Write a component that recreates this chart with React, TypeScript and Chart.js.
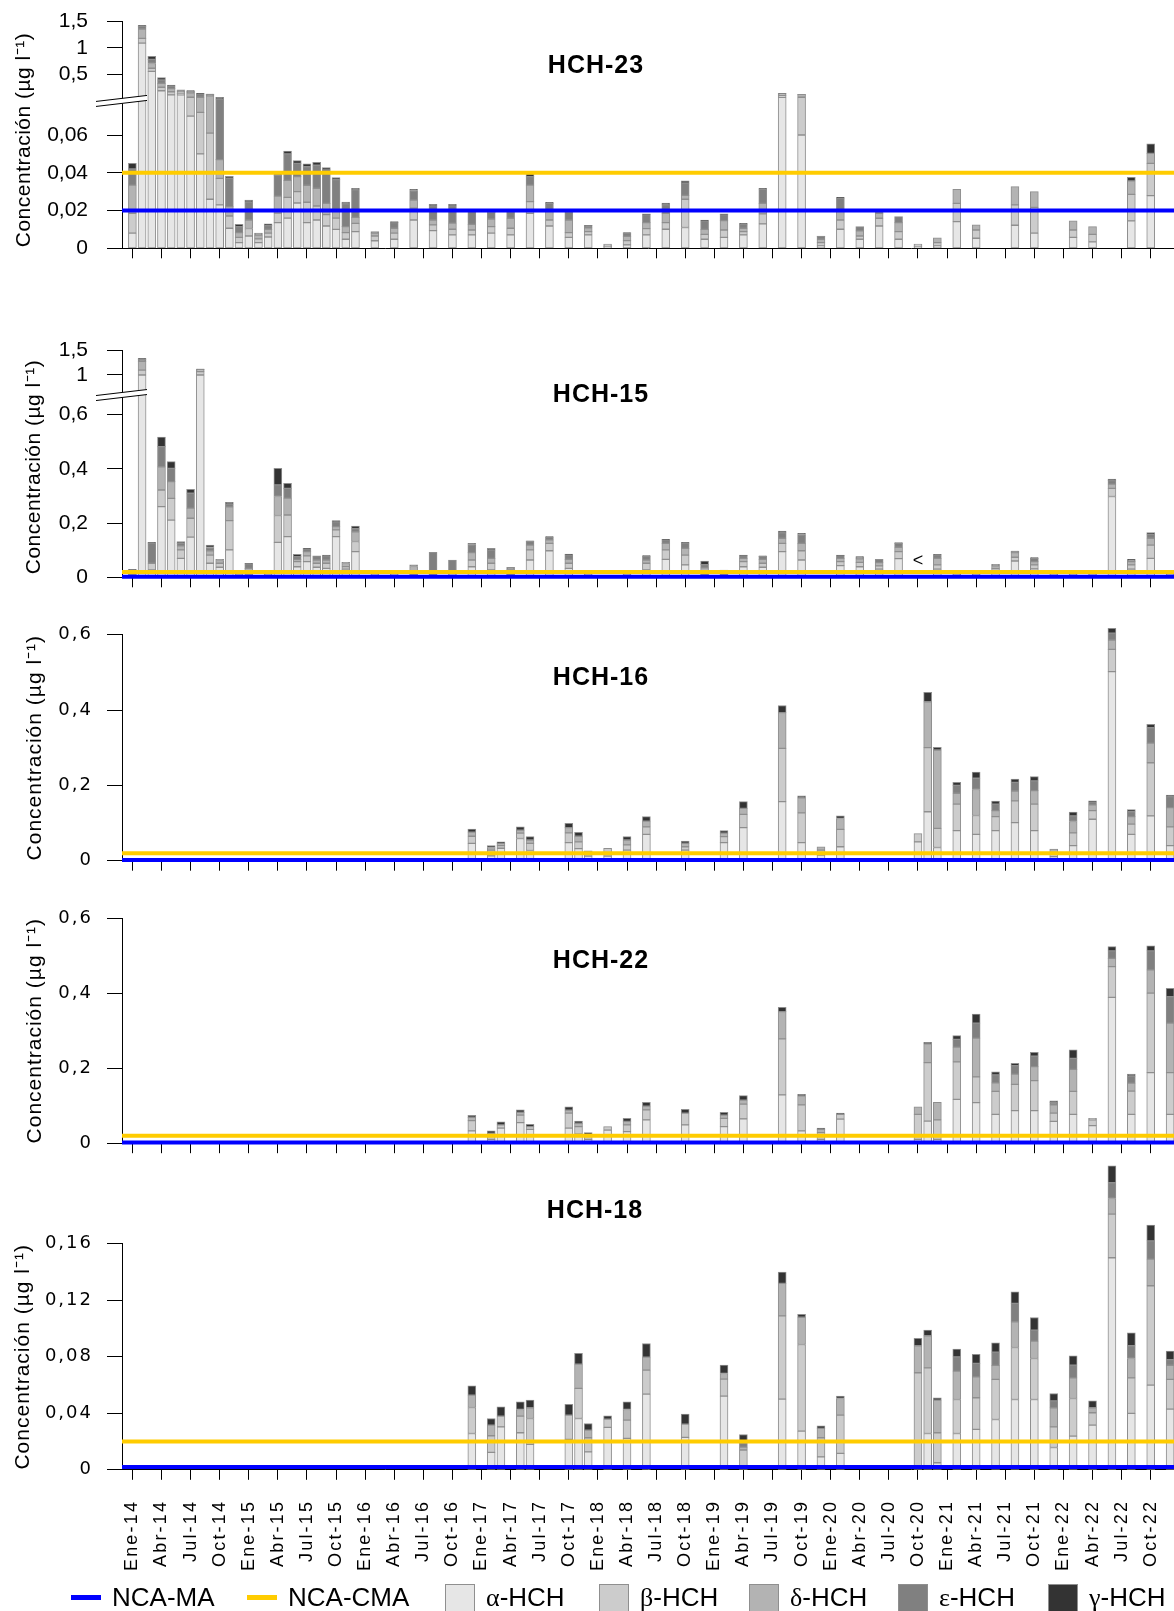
import React, { useEffect, useRef } from 'react';
import { Chart, registerables } from 'chart.js';

Chart.register(...registerables);

// ---------- categories, ticks, labels ----------
const MONTH_NAMES = ['Ene', 'Feb', 'Mar', 'Abr', 'May', 'Jun', 'Jul', 'Ago', 'Sep', 'Oct', 'Nov', 'Dic'];
const FIRST_YEAR = 14;
const TICK_MONTHS = [0, 3, 6, 9, 12, 15, 18, 21, 24, 27, 30, 33, 36, 39, 42, 45, 48, 51, 54, 57, 60, 63, 66, 69, 72, 75, 78, 81, 84, 87, 90, 93, 96, 99, 102, 105];
const SERIES_LABELS = ['α-HCH', 'β-HCH', 'δ-HCH', 'ε-HCH', 'γ-HCH'];
const LIMIT_LABELS = ['NCA-MA', 'NCA-CMA'];
const Y_TITLE = 'Concentración (µg l⁻¹)';

// ---------- HCH-23 ----------
const H23_MONTHS = [0, 1, 2, 3, 4, 5, 6, 7, 8, 9, 10, 11, 12, 13, 14, 15, 16, 17, 18, 19, 20, 21, 22, 23, 25, 27, 29, 31, 33, 35, 37, 39, 41, 43, 45, 47, 49, 51, 53, 55, 57, 59, 61, 63, 65, 67, 69, 71, 73, 75, 77, 79, 81, 83, 85, 87, 91, 93, 97, 99, 103, 105];
const H23_ALPHA = [0.008, 1.09, 0.55, 0.18, 0.1, 0.1, 0.07, 0.05, 0.026, 0.023, 0.0106, 0.003, 0.0065, 0.003, 0.006, 0.0136, 0.016, 0.024, 0.0136, 0.015, 0.0118, 0.01, 0.0048, 0.0088, 0.004, 0.0048, 0.015, 0.0094, 0.0071, 0.0071, 0.008, 0.0071, 0.0185, 0.0118, 0.0058, 0.0071, 0.001, 0.0018, 0.0071, 0.0101, 0.011, 0.0048, 0.0058, 0.0071, 0.0129, 0.08, 0.06, 0.0012, 0.0101, 0.0048, 0.0118, 0.0048, 0.001, 0.0012, 0.0141, 0.0053, 0.0122, 0.008, 0.0058, 0.0034, 0.0145, 0.0279];
const H23_BETA = [0.0105, 0.09, 0.06, 0.066, 0.06, 0.03, 0.01, 0.022, 0.035, 0.014, 0.0065, 0.0028, 0.004, 0.002, 0.002, 0.005, 0.011, 0.006, 0.0108, 0.0074, 0.006, 0.006, 0.0035, 0.0044, 0.0025, 0.0032, 0.0062, 0.003, 0.003, 0.0026, 0.0035, 0.0035, 0.0062, 0.0032, 0.0025, 0.0017, 0.001, 0.0023, 0.0033, 0.0035, 0.015, 0.0026, 0.0039, 0.0017, 0.0053, 0.01, 0.02, 0.0018, 0.0049, 0.0017, 0.0041, 0.004, 0.0008, 0.0018, 0.0097, 0.0044, 0.0108, 0.0137, 0.0039, 0.004, 0.0141, 0.0171];
const H23_DELTA = [0.015, 0.18, 0.09, 0.074, 0.06, 0.03, 0.06, 0.008, 0.02, 0.01, 0.005, 0.0025, 0.0045, 0.002, 0.002, 0.009, 0.009, 0.008, 0.009, 0.0094, 0.006, 0.0044, 0.0032, 0.0032, 0.0015, 0.0026, 0.0044, 0.0026, 0.0032, 0.003, 0.004, 0.0053, 0.0088, 0.0053, 0.0067, 0.002, 0.0003, 0.0022, 0.0032, 0.0049, 0.002, 0.0026, 0.005, 0.0018, 0.0056, 0.035, 0.029, 0.0018, 0.005, 0.0027, 0.0026, 0.0048, 0.0005, 0.0026, 0.0075, 0.0027, 0.0097, 0.0083, 0.0048, 0.0041, 0.0071, 0.0053];
const H23_EPSILON = [0.0085, 0.05, 0.08, 0.066, 0.05, 0.025, 0.03, 0.04, 0.03, 0.032, 0.015, 0.0032, 0.0095, 0.001, 0.002, 0.011, 0.014, 0.007, 0.0098, 0.0122, 0.0177, 0.016, 0.012, 0.0146, 0.0008, 0.003, 0.005, 0.0075, 0.0092, 0.0071, 0.0035, 0.0035, 0.0045, 0.0035, 0.0045, 0.0012, 0, 0.0018, 0.0042, 0.0045, 0.0065, 0.0045, 0.0031, 0.0022, 0.0075, 0, 0, 0.0015, 0.0066, 0.0023, 0.0013, 0.0032, 0, 0, 0, 0, 0, 0, 0, 0, 0, 0];
const H23_GAMMA = [0.003, 0.02, 0.06, 0.044, 0.02, 0.01, 0.012, 0.01, 0.007, 0.001, 0.001, 0.0012, 0.001, 0, 0.001, 0.001, 0.0015, 0.0014, 0.0015, 0.0015, 0.0012, 0.001, 0.001, 0.0008, 0, 0.0005, 0.0007, 0.0008, 0.0008, 0, 0.0005, 0.0004, 0.0014, 0.0006, 0.0005, 0.0002, 0, 0.0002, 0.0004, 0.001, 0.0012, 0.0005, 0.0004, 0.0004, 0.0005, 0.005, 0.003, 0.0002, 0.0004, 0, 0, 0, 0, 0, 0, 0, 0, 0, 0, 0, 0.0019, 0.005];
const H23_LIMITS = [0.02, 0.04];
const H23_Y_TICKS = [0, 0.02, 0.04, 0.06, 0.5, 1, 1.5];
const H23_Y_LABELS = ['0', '0,02', '0,04', '0,06', '0,5', '1', '1,5'];

// ---------- HCH-15 ----------
const H15_MONTHS = [0, 1, 2, 3, 4, 5, 6, 7, 8, 9, 10, 11, 12, 14, 15, 16, 17, 18, 19, 20, 21, 22, 23, 25, 27, 29, 31, 33, 35, 37, 39, 41, 43, 45, 47, 51, 53, 55, 57, 59, 61, 63, 65, 67, 69, 73, 75, 77, 79, 83, 85, 87, 89, 91, 93, 95, 97, 99, 101, 103, 105, 107];
const H15_ALPHA = [0.005, 1.0, 0.027, 0.261, 0.211, 0.07, 0.148, 1.0, 0.052, 0.037, 0.101, 0.005, 0.009, 0.004, 0.129, 0.15, 0.039, 0.058, 0.037, 0.033, 0.15, 0.03, 0.095, 0.004, 0.004, 0.01, 0.005, 0.005, 0.039, 0.027, 0.01, 0.064, 0.098, 0.033, 0.004, 0.004, 0.027, 0.066, 0.046, 0.01, 0.01, 0.039, 0.037, 0.095, 0.064, 0.043, 0.039, 0.03, 0.069, 0.03, 0.004, 0.004, 0.02, 0.06, 0.031, 0.004, 0.004, 0.004, 0.298, 0.03, 0.07, 0.004];
const H15_BETA = [0.005, 0.1, 0.025, 0.061, 0.08, 0.031, 0.07, 0.07, 0.03, 0.015, 0.108, 0.004, 0.008, 0.004, 0.099, 0.08, 0.019, 0.021, 0.015, 0.019, 0.025, 0.009, 0.037, 0.004, 0.004, 0.01, 0.005, 0.008, 0.025, 0.025, 0.01, 0.037, 0.027, 0.019, 0.004, 0.004, 0.025, 0.035, 0.036, 0.01, 0.01, 0.019, 0.015, 0.03, 0.034, 0.015, 0.016, 0.012, 0.026, 0.016, 0.004, 0.004, 0.012, 0.014, 0.015, 0.004, 0.004, 0.004, 0.03, 0.016, 0.049, 0.004];
const H15_DELTA = [0.01, 0.18, 0, 0.086, 0.062, 0.015, 0.037, 0.04, 0.016, 0.01, 0.051, 0.003, 0.016, 0.003, 0.07, 0.062, 0.008, 0.016, 0.012, 0.012, 0.012, 0.012, 0.036, 0.004, 0.004, 0.02, 0.01, 0.01, 0.027, 0.018, 0.01, 0.018, 0.013, 0.014, 0.004, 0.003, 0.012, 0.024, 0.025, 0.015, 0.007, 0.012, 0.014, 0.019, 0.027, 0.012, 0.013, 0.012, 0.016, 0.024, 0.004, 0.003, 0.01, 0.017, 0.012, 0.004, 0.004, 0.004, 0.016, 0.012, 0.025, 0.004];
const H15_EPSILON = [0.008, 0.04, 0.074, 0.074, 0.049, 0.009, 0.055, 0.01, 0.012, 0.004, 0.01, 0, 0.017, 0, 0.043, 0.036, 0.01, 0.01, 0.015, 0.015, 0.018, 0.004, 0.011, 0, 0, 0.006, 0.072, 0.041, 0.03, 0.03, 0.007, 0.014, 0.01, 0.017, 0, 0, 0.014, 0.013, 0.019, 0.012, 0, 0.01, 0.011, 0.02, 0.033, 0.01, 0.007, 0.012, 0.014, 0.013, 0, 0, 0.006, 0.005, 0.012, 0, 0, 0, 0.013, 0.006, 0.015, 0];
const H15_GAMMA = [0.0015, 0.024, 0.003, 0.035, 0.025, 0.007, 0.015, 0.004, 0.009, 0, 0.007, 0, 0.002, 0, 0.061, 0.019, 0.009, 0.002, 0, 0.003, 0.004, 0, 0.01, 0, 0, 0, 0, 0, 0.004, 0.007, 0, 0.002, 0.002, 0.003, 0, 0, 0.002, 0.002, 0.003, 0.013, 0, 0.002, 0.002, 0.007, 0.004, 0.002, 0.001, 0, 0.003, 0.002, 0, 0, 0, 0.001, 0.003, 0, 0, 0, 0.005, 0.002, 0.006, 0];
const H15_LIMITS = [0.002, 0.02];
const H15_Y_TICKS = [0, 0.2, 0.4, 0.6, 1, 1.5];
const H15_Y_LABELS = ['0', '0,2', '0,4', '0,6', '1', '1,5'];
const H15_NOTE_MONTHS = [81];
const H15_NOTE_VALUES = [0.06];
const H15_NOTE_TEXTS = ['<'];

// ---------- HCH-16 ----------
const H16_MONTHS = [35, 37, 38, 40, 41, 45, 46, 47, 49, 51, 53, 57, 61, 63, 67, 69, 71, 73, 81, 82, 83, 85, 87, 89, 91, 93, 95, 97, 99, 101, 103, 105, 107];
const H16_ALPHA = [0.046, 0.013, 0.033, 0.059, 0.027, 0.048, 0.032, 0.012, 0.012, 0.028, 0.07, 0.028, 0.048, 0.088, 0.157, 0.048, 0.015, 0.037, 0.05, 0.13, 0.035, 0.08, 0.07, 0.08, 0.101, 0.08, 0.011, 0.04, 0.11, 0.502, 0.07, 0.119, 0.04];
const H16_BETA = [0.019, 0.015, 0.007, 0.014, 0.019, 0.026, 0.018, 0.007, 0.021, 0.014, 0.02, 0.009, 0.016, 0.035, 0.141, 0.079, 0.013, 0.046, 0.022, 0.17, 0.051, 0.07, 0.05, 0.037, 0.058, 0.07, 0.01, 0.034, 0.023, 0.059, 0.027, 0.141, 0.05];
const H16_DELTA = [0.011, 0.007, 0.006, 0.008, 0.009, 0.014, 0.015, 0.007, 0, 0.013, 0.015, 0.009, 0.009, 0.016, 0.095, 0.04, 0.009, 0.029, 0, 0.122, 0.208, 0.029, 0.069, 0.016, 0.026, 0.036, 0.01, 0.03, 0.015, 0.025, 0.02, 0.052, 0.051];
const H16_EPSILON = [0, 0, 0, 0, 0, 0, 0, 0, 0, 0, 0, 0, 0, 0, 0, 0, 0, 0, 0, 0, 0, 0.021, 0.03, 0.017, 0.023, 0.026, 0, 0.015, 0.008, 0.018, 0.013, 0.041, 0.029];
const H16_GAMMA = [0.008, 0.005, 0.004, 0.009, 0.009, 0.011, 0.01, 0, 0, 0.009, 0.012, 0.006, 0.007, 0.018, 0.019, 0.005, 0, 0.007, 0, 0.025, 0.007, 0.008, 0.016, 0.008, 0.009, 0.011, 0, 0.01, 0.003, 0.013, 0.006, 0.009, 0.004];
const H16_LIMITS = [0.002, 0.02];
const H16_Y_TICKS = [0, 0.2, 0.4, 0.6];
const H16_Y_LABELS = ['0', '0,2', '0,4', '0,6'];

// ---------- HCH-22 ----------
const H22_MONTHS = [35, 37, 38, 40, 41, 45, 46, 47, 49, 51, 53, 57, 61, 63, 67, 69, 71, 73, 81, 82, 83, 85, 87, 89, 91, 93, 95, 97, 99, 101, 103, 105, 107];
const H22_ALPHA = [0.033, 0.01, 0.04, 0.055, 0.037, 0.04, 0.024, 0.01, 0.035, 0.031, 0.062, 0.049, 0.044, 0.065, 0.129, 0.033, 0.01, 0.064, 0.01, 0.059, 0.01, 0.117, 0.108, 0.077, 0.087, 0.087, 0.058, 0.077, 0.047, 0.389, 0.077, 0.188, 0.077];
const H22_BETA = [0.027, 0.016, 0.009, 0.02, 0.007, 0.04, 0.02, 0.012, 0.009, 0.018, 0.027, 0.031, 0.022, 0.039, 0.149, 0.069, 0.018, 0.013, 0.067, 0.156, 0.052, 0.1, 0.069, 0.061, 0.07, 0.08, 0.022, 0.061, 0.015, 0.082, 0.062, 0.212, 0.111];
const H22_DELTA = [0.009, 0, 0, 0.007, 0, 0.008, 0.009, 0, 0, 0.009, 0.01, 0, 0.009, 0.011, 0.073, 0.024, 0.009, 0, 0.02, 0.05, 0.047, 0.039, 0.103, 0.023, 0.027, 0.037, 0.022, 0.059, 0.004, 0.022, 0.021, 0.062, 0.132];
const H22_EPSILON = [0, 0, 0, 0, 0, 0, 0, 0, 0, 0, 0, 0, 0, 0, 0, 0, 0, 0, 0, 0, 0, 0.021, 0.04, 0.021, 0.023, 0.028, 0.006, 0.029, 0, 0.02, 0.019, 0.051, 0.071];
const H22_GAMMA = [0.005, 0.007, 0.008, 0.007, 0.006, 0.009, 0.006, 0.006, 0, 0.008, 0.01, 0.01, 0.007, 0.012, 0.011, 0.004, 0.003, 0.003, 0, 0.004, 0, 0.01, 0.024, 0.008, 0.006, 0.01, 0.005, 0.023, 0, 0.011, 0.005, 0.013, 0.022];
const H22_LIMITS = [0.002, 0.02];
const H22_Y_TICKS = [0, 0.2, 0.4, 0.6];
const H22_Y_LABELS = ['0', '0,2', '0,4', '0,6'];

// ---------- HCH-18 ----------
const H18_MONTHS = [35, 37, 38, 40, 41, 45, 46, 47, 49, 51, 53, 57, 61, 63, 67, 69, 71, 73, 81, 82, 83, 85, 87, 89, 91, 93, 95, 97, 99, 101, 103, 105, 107];
const H18_ALPHA = [0.0257, 0.0123, 0.0304, 0.0262, 0.018, 0.0215, 0.0363, 0.0127, 0.03, 0.0222, 0.0536, 0.0229, 0.0522, 0.002, 0.05, 0.0274, 0.0092, 0.0116, 0.002, 0.0257, 0.005, 0.0257, 0.0286, 0.0356, 0.0498, 0.0498, 0.0158, 0.0238, 0.0316, 0.1501, 0.0399, 0.0599, 0.043];
const H18_BETA = [0.0184, 0.0118, 0.0076, 0.0118, 0.0183, 0.0172, 0.0213, 0.01, 0.0059, 0.013, 0.017, 0.0094, 0.012, 0.012, 0.059, 0.0613, 0.0135, 0.0271, 0.0667, 0.0465, 0.0212, 0.0241, 0.0224, 0.0284, 0.0368, 0.029, 0.0146, 0.0267, 0.0088, 0.0309, 0.0252, 0.0704, 0.021];
const H18_DELTA = [0.0088, 0.0075, 0, 0.0047, 0.0076, 0, 0.0172, 0.0054, 0, 0.0075, 0.0092, 0, 0.004, 0.002, 0.023, 0.0193, 0.0066, 0.0118, 0.0191, 0.0227, 0.0231, 0.0201, 0.0148, 0.0099, 0.0182, 0.0123, 0.0135, 0.0146, 0.0035, 0.0111, 0.0137, 0.0188, 0.01];
const H18_EPSILON = [0, 0, 0, 0, 0, 0, 0, 0, 0, 0, 0, 0, 0, 0.003, 0, 0, 0, 0, 0, 0, 0, 0.0101, 0.0095, 0.0094, 0.013, 0.0078, 0.0049, 0.009, 0, 0.0111, 0.009, 0.013, 0.004];
const H18_GAMMA = [0.0066, 0.0047, 0.0066, 0.0054, 0.0054, 0.0076, 0.0076, 0.0047, 0.0023, 0.0054, 0.0096, 0.0071, 0.0059, 0.006, 0.008, 0.002, 0.0019, 0.0017, 0.0052, 0.004, 0.0017, 0.0054, 0.0064, 0.0066, 0.0082, 0.0089, 0.0052, 0.0066, 0.0049, 0.012, 0.0092, 0.0111, 0.006];
const H18_LIMITS = [0.002, 0.02];
const H18_Y_TICKS = [0, 0.04, 0.08, 0.12, 0.16];
const H18_Y_LABELS = ['0', '0,04', '0,08', '0,12', '0,16'];

// ---------- styles ----------
const SERIES_COLORS = ['#e6e6e6', '#cccccc', '#b3b3b3', '#808080', '#333333'];
const BAR_BORDER = '#8f8f8f';
const LIMIT_COLORS = ['#0000ff', '#ffcc00'];
const SANS = "'Liberation Sans', Arial, sans-serif";
const WIDE = "'DejaVu Sans', Verdana, sans-serif";
const X_MIN = -1.07;
const X_MAX = 107.4;
const CANVAS_W = 1174;

type Brk = { lowMax: number; lowPx: number; upA: number; upB: number } | null;

interface Panel {
  title: string;
  months: number[];
  series: number[][];
  limits: number[];
  yTicks: number[];
  yLabels: string[];
  brk: Brk;
  notes?: { month: number; value: number; text: string }[];
  top: number;
  height: number;
  plotTop: number;
  plotBottom: number;
  titleX: number;
  titleY: number;
  tickFont: { family: string; size: number };
  tickPad: number;
  tickSpacing: string;
  yTitleX: number;
  yTitleDy: number;
  yTitleSpacing: string;
  showXLabels: boolean;
}

const PANELS: Panel[] = [
  {
    title: 'HCH-23', months: H23_MONTHS,
    series: [H23_ALPHA, H23_BETA, H23_DELTA, H23_EPSILON, H23_GAMMA],
    limits: H23_LIMITS, yTicks: H23_Y_TICKS, yLabels: H23_Y_LABELS,
    brk: { lowMax: 0.0807, lowPx: 1888, upA: 148.15, upB: 52.3 },
    top: 0, height: 275, plotTop: 21.7, plotBottom: 248.3, titleX: 596, titleY: 66,
    tickFont: { family: SANS, size: 21 }, tickPad: 19, tickSpacing: '0px',
    yTitleX: 24, yTitleDy: 5, yTitleSpacing: '0.5px', showXLabels: false,
  },
  {
    title: 'HCH-15', months: H15_MONTHS,
    series: [H15_ALPHA, H15_BETA, H15_DELTA, H15_EPSILON, H15_GAMMA],
    limits: H15_LIMITS, yTicks: H15_Y_TICKS, yLabels: H15_Y_LABELS,
    brk: { lowMax: 0.691, lowPx: 271, upA: 153.7, upB: 48.6 },
    notes: H15_NOTE_MONTHS.map((m, k) => ({ month: m, value: H15_NOTE_VALUES[k], text: H15_NOTE_TEXTS[k] })),
    top: 330, height: 260, plotTop: 350.7, plotBottom: 577.3, titleX: 601, titleY: 395,
    tickFont: { family: SANS, size: 21 }, tickPad: 19, tickSpacing: '0px',
    yTitleX: 34, yTitleDy: 3, yTitleSpacing: '0.5px', showXLabels: false,
  },
  {
    title: 'HCH-16', months: H16_MONTHS,
    series: [H16_ALPHA, H16_BETA, H16_DELTA, H16_EPSILON, H16_GAMMA],
    limits: H16_LIMITS, yTicks: H16_Y_TICKS, yLabels: H16_Y_LABELS, brk: null,
    top: 600, height: 280, plotTop: 634.7, plotBottom: 860.7, titleX: 601, titleY: 678,
    tickFont: { family: WIDE, size: 18 }, tickPad: 14, tickSpacing: '2px',
    yTitleX: 35, yTitleDy: 0, yTitleSpacing: '1px', showXLabels: false,
  },
  {
    title: 'HCH-22', months: H22_MONTHS,
    series: [H22_ALPHA, H22_BETA, H22_DELTA, H22_EPSILON, H22_GAMMA],
    limits: H22_LIMITS, yTicks: H22_Y_TICKS, yLabels: H22_Y_LABELS, brk: null,
    top: 890, height: 270, plotTop: 918.2, plotBottom: 1143.2, titleX: 601, titleY: 961,
    tickFont: { family: WIDE, size: 18 }, tickPad: 14, tickSpacing: '2px',
    yTitleX: 35, yTitleDy: 0, yTitleSpacing: '1px', showXLabels: false,
  },
  {
    title: 'HCH-18', months: H18_MONTHS,
    series: [H18_ALPHA, H18_BETA, H18_DELTA, H18_EPSILON, H18_GAMMA],
    limits: H18_LIMITS, yTicks: H18_Y_TICKS, yLabels: H18_Y_LABELS, brk: null,
    top: 1160, height: 451, plotTop: 1243.8, plotBottom: 1469.8, titleX: 595, titleY: 1211,
    tickFont: { family: WIDE, size: 18 }, tickPad: 14, tickSpacing: '2px',
    yTitleX: 23, yTitleDy: 0, yTitleSpacing: '1px', showXLabels: true,
  },
];

const monthLabel = (m: number) => `${MONTH_NAMES[((m % 12) + 12) % 12]}-${FIRST_YEAR + Math.floor(m / 12)}`;

const makeT = (brk: Brk) => (v: number) =>
  !brk ? v : v <= brk.lowMax ? v * brk.lowPx : brk.upA + brk.upB * v;

// wrap a scale's label drawing so that it uses a given letter spacing
const spacedLabels = (spacing: string) => (s: any) => {
  if (s.__spaced) return;
  s.__spaced = true;
  const orig = s.drawLabels;
  s.drawLabels = function (area: any) {
    const ctx = this.ctx;
    const prev = ctx.letterSpacing;
    ctx.letterSpacing = spacing;
    orig.call(this, area);
    ctx.letterSpacing = prev || '0px';
  };
};

function buildConfig(p: Panel): any {
  const T = makeT(p.brk);
  const cum = new Map<number, number>();
  const bars = p.series.map((vals, s) => ({
    type: 'bar',
    label: SERIES_LABELS[s],
    stack: 'hch',
    order: 1,
    backgroundColor: SERIES_COLORS[s],
    borderColor: BAR_BORDER,
    borderWidth: 1,
    borderSkipped: false,
    barThickness: 8,
    clip: false,
    data: p.months.flatMap((m, k) => {
      const v = vals[k];
      if (!v) return [];
      const base = cum.get(m) ?? 0;
      cum.set(m, base + v);
      return [{ x: m, y: T(base + v) - T(base) }];
    }),
  }));
  const lines = p.limits.map((lv, j) => ({
    type: 'line',
    label: LIMIT_LABELS[j],
    stack: 'limit' + j,
    order: 0,
    borderColor: LIMIT_COLORS[j],
    backgroundColor: LIMIT_COLORS[j],
    borderWidth: 4,
    pointRadius: 0,
    fill: false,
    clip: false,
    data: [{ x: X_MIN, y: T(lv) }, { x: X_MAX, y: T(lv) }],
  }));

  const plotH = p.plotBottom - p.plotTop;
  const padTop = p.plotTop - p.top;
  const xAxisH = p.height - padTop - plotH;
  const yMax = T(p.yTicks[p.yTicks.length - 1]);

  const overlay = {
    id: 'overlay',
    afterDatasetsDraw(chart: any) {
      const ctx = chart.ctx;
      const xs = chart.scales.x;
      const ys = chart.scales.y;
      ctx.save();
      if (p.notes) {
        ctx.fillStyle = '#000';
        ctx.font = `18px ${SANS}`;
        ctx.textAlign = 'center';
        ctx.textBaseline = 'middle';
        p.notes.forEach((n) => ctx.fillText(n.text, xs.getPixelForValue(n.month), ys.getPixelForValue(T(n.value))));
      }
      if (p.brk) {
        const yb = ys.getPixelForValue(T(p.brk.lowMax)) + 5;
        const x0 = 96;
        const x1 = 147;
        const d = 3;
        const g = 2.5;
        ctx.fillStyle = '#fff';
        ctx.beginPath();
        ctx.moveTo(x0, yb + d - g);
        ctx.lineTo(x1, yb - d - g);
        ctx.lineTo(x1, yb - d + g);
        ctx.lineTo(x0, yb + d + g);
        ctx.closePath();
        ctx.fill();
        ctx.strokeStyle = '#000';
        ctx.lineWidth = 1;
        ctx.beginPath();
        ctx.moveTo(x0, yb + d - g);
        ctx.lineTo(x1, yb - d - g);
        ctx.moveTo(x0, yb + d + g);
        ctx.lineTo(x1, yb - d + g);
        ctx.stroke();
      }
      ctx.restore();
    },
    afterDraw(chart: any) {
      const ctx = chart.ctx;
      const area = chart.chartArea;
      ctx.save();
      ctx.fillStyle = '#000';
      ctx.letterSpacing = '1px';
      ctx.font = `bold 25px ${SANS}`;
      ctx.textAlign = 'center';
      ctx.textBaseline = 'middle';
      ctx.fillText(p.title, p.titleX, p.titleY - p.top);
      ctx.restore();
      // y-axis title
      ctx.save();
      ctx.fillStyle = '#000';
      ctx.letterSpacing = p.yTitleSpacing;
      ctx.font = `21px ${SANS}`;
      ctx.textAlign = 'center';
      ctx.textBaseline = 'middle';
      ctx.translate(p.yTitleX, (area.top + area.bottom) / 2 + p.yTitleDy);
      ctx.rotate(-Math.PI / 2);
      ctx.fillText(Y_TITLE, 0, 0);
      ctx.restore();
    },
  };

  return {
    type: 'bar',
    data: { datasets: [...lines, ...bars] },
    plugins: [overlay],
    options: {
      animation: false,
      responsive: false,
      maintainAspectRatio: false,
      events: [],
      layout: { padding: { top: padTop, right: 0, bottom: 0, left: 0 } },
      plugins: { legend: { display: false }, tooltip: { enabled: false }, title: { display: false } },
      scales: {
        x: {
          type: 'linear',
          min: X_MIN,
          max: X_MAX,
          offset: false,
          stacked: true,
          grid: { display: true, drawOnChartArea: false, drawTicks: true, tickLength: 10, color: '#000', offset: false },
          border: { display: true, color: '#000', width: 1 },
          ticks: {
            display: p.showXLabels,
            autoSkip: false,
            minRotation: 90,
            maxRotation: 90,
            padding: 20,
            color: '#000',
            font: { family: SANS, size: 18 },
            callback: (v: number) => monthLabel(v),
          },
          afterBuildTicks: (s: any) => { s.ticks = TICK_MONTHS.map((v) => ({ value: v })); },
          afterFit: (s: any) => {
            s.height = xAxisH;
            s.paddingLeft = 0;
            s.paddingRight = 0;
            spacedLabels('2.2px')(s);
          },
        },
        y: {
          type: 'linear',
          stacked: true,
          min: 0,
          max: yMax,
          grid: { display: true, drawOnChartArea: false, drawTicks: true, tickLength: 15, color: '#000' },
          border: { display: true, color: '#000', width: 1 },
          ticks: {
            color: '#000',
            padding: p.tickPad,
            font: p.tickFont,
            callback: (_v: number, i: number) => p.yLabels[i] ?? '',
          },
          afterBuildTicks: (s: any) => { s.ticks = p.yTicks.map((v) => ({ value: T(v) })); },
          afterFit: (s: any) => {
            s.width = 122;
            s.paddingTop = 0;
            s.paddingBottom = 0;
            spacedLabels(p.tickSpacing)(s);
          },
          title: { display: false },
        },
      },
    },
  };
}

function PanelChart({ panel }: { panel: Panel }) {
  const ref = useRef<HTMLCanvasElement>(null);
  useEffect(() => {
    const chart = new Chart(ref.current as HTMLCanvasElement, buildConfig(panel));
    return () => chart.destroy();
  }, [panel]);
  return (
    <canvas
      ref={ref}
      width={CANVAS_W}
      height={panel.height}
      style={{ position: 'absolute', left: 0, top: panel.top, width: CANVAS_W, height: panel.height }}
    />
  );
}

const LEGEND_TEXT_STYLE: React.CSSProperties = {
  position: 'absolute', top: 1582, height: 30, lineHeight: '30px',
  fontFamily: SANS, fontSize: 26, color: '#000', whiteSpace: 'nowrap',
};

export default function App() {
  const lineLefts = [71, 247];
  const boxLefts = [445, 599, 749, 898, 1048];
  return (
    <div style={{ position: 'absolute', left: 0, top: 0, width: CANVAS_W, height: 1611, overflow: 'hidden', background: '#fff' }}>
      {PANELS.map((p) => <PanelChart key={p.title} panel={p} />)}
      {LIMIT_LABELS.map((lab, j) => (
        <React.Fragment key={lab}>
          <div style={{ position: 'absolute', left: lineLefts[j], top: 1595, width: 30, height: 5, background: LIMIT_COLORS[j] }} />
          <div style={{ ...LEGEND_TEXT_STYLE, left: lineLefts[j] + 41 }}>{lab}</div>
        </React.Fragment>
      ))}
      {SERIES_LABELS.map((lab, s) => (
        <React.Fragment key={lab}>
          <div style={{ position: 'absolute', left: boxLefts[s], top: 1584, width: 28, height: 30, background: SERIES_COLORS[s], border: `1px solid ${BAR_BORDER}` }} />
          <div style={{ ...LEGEND_TEXT_STYLE, left: boxLefts[s] + 41 }}>
            <span style={{ fontFamily: "'Liberation Serif', 'Times New Roman', serif" }}>{lab.slice(0, 1)}</span>
            {lab.slice(1)}
          </div>
        </React.Fragment>
      ))}
    </div>
  );
}
